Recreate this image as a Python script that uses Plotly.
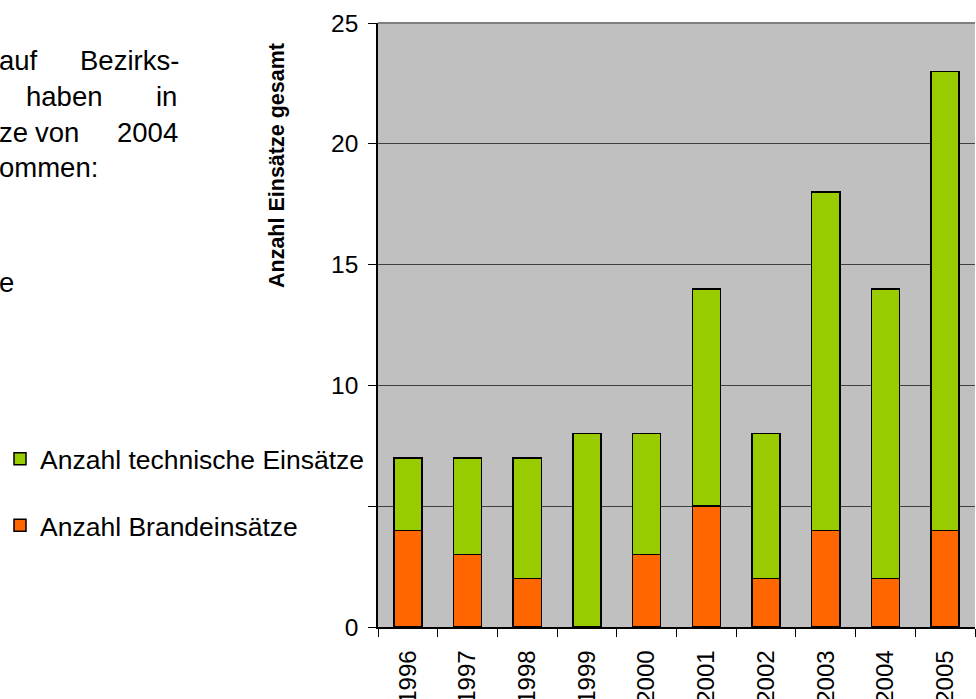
import plotly.graph_objects as go

years = ["1996", "1997", "1998", "1999", "2000", "2001", "2002", "2003", "2004", "2005"]
brand = [4, 3, 2, 0, 3, 5, 2, 4, 2, 4]
technisch = [3, 4, 5, 8, 5, 9, 6, 14, 12, 19]

ytick_vals = [0, 5, 10, 15, 20, 25]
ytick_text = ["0", "", "10", "15", "20", "25"]

W, H = 976, 699
L, R, T, B = 378, 1, 23, 72
PW, PH = W - L - R, H - T - B

def px(x):
    return (x - L) / PW

def py(y):
    return (H - B - y) / PH

FONT = "Liberation Sans, Arial, sans-serif"

fig = go.Figure()
fig.add_trace(go.Bar(
    x=years, y=brand, name="Anzahl Brandeinsätze",
    marker=dict(color="#FF6600", line=dict(color="black", width=1.5)),
    legendgroup="b", legendrank=2,
))
fig.add_trace(go.Bar(
    x=years, y=technisch, name="Anzahl technische Einsätze",
    marker=dict(color="#99CC00", line=dict(color="black", width=1.5)),
    legendgroup="t", legendrank=1,
))

fig.update_layout(
    width=W, height=H,
    margin=dict(l=L, r=R, t=T, b=B, pad=0, autoexpand=False),
    barmode="stack",
    bargap=0.53,
    plot_bgcolor="#C0C0C0",
    paper_bgcolor="white",
    font=dict(family=FONT, size=24, color="black"),
    showlegend=True,
    legend=dict(
        x=px(0), xanchor="left",
        y=py(435), yanchor="top",
        traceorder="grouped",
        tracegroupgap=29,
        font=dict(size=26.5),
        bgcolor="rgba(0,0,0,0)",
    ),
    xaxis=dict(
        type="category",
        automargin=False,
        tickangle=-90,
        ticks="outside", ticklen=8, tickcolor="black", tickwidth=1,
        tickson="boundaries",
        ticklabelstandoff=12,
        showline=True, linecolor="black", linewidth=1.5,
        showgrid=False,
        tickfont=dict(size=24),
    ),
    yaxis=dict(
        automargin=False,
        range=[0, 25],
        tickvals=ytick_vals, ticktext=ytick_text,
        ticks="outside", ticklen=8, tickcolor="black", tickwidth=1,
        ticklabelstandoff=5,
        showline=True, linecolor="black", linewidth=1.5,
        showgrid=True, gridcolor="#404040", gridwidth=1,
        zeroline=False,
        tickfont=dict(size=24.5),
    ),
)

# top border of plot area
fig.add_shape(type="line", xref="paper", yref="paper", x0=0, x1=1, y0=1, y1=1,
              line=dict(color="#808080", width=2))

# y axis title
fig.add_annotation(
    text="<b>Anzahl Einsätze gesamt</b>", textangle=-90,
    xref="paper", yref="paper", x=px(277), y=py(166),
    xanchor="center", yanchor="middle", showarrow=False,
    font=dict(size=21.5, family=FONT),
)

# fragments of the surrounding document text
para = [
    ("auf", -3, 60, "left"), ("Bezirks-", 181, 60, "right"),
    ("haben", 24, 96, "left"), ("in", 179, 96, "right"),
    ("ze", -3, 132, "left"), ("von", 33, 132, "left"), ("2004", 180, 132, "right"),
    ("ommen:", -3, 167, "left"),
    ("e", -3, 282, "left"),
]
for txt, x, yc, anchor in para:
    fig.add_annotation(
        text=txt, xref="paper", yref="paper",
        x=px(x), y=py(yc), xanchor=anchor, yanchor="middle",
        showarrow=False, font=dict(size=27.5, family=FONT),
    )

fig.write_html("out.html", config={"displayModeBar": False},
               post_script="document.body.style.margin='0px';")
